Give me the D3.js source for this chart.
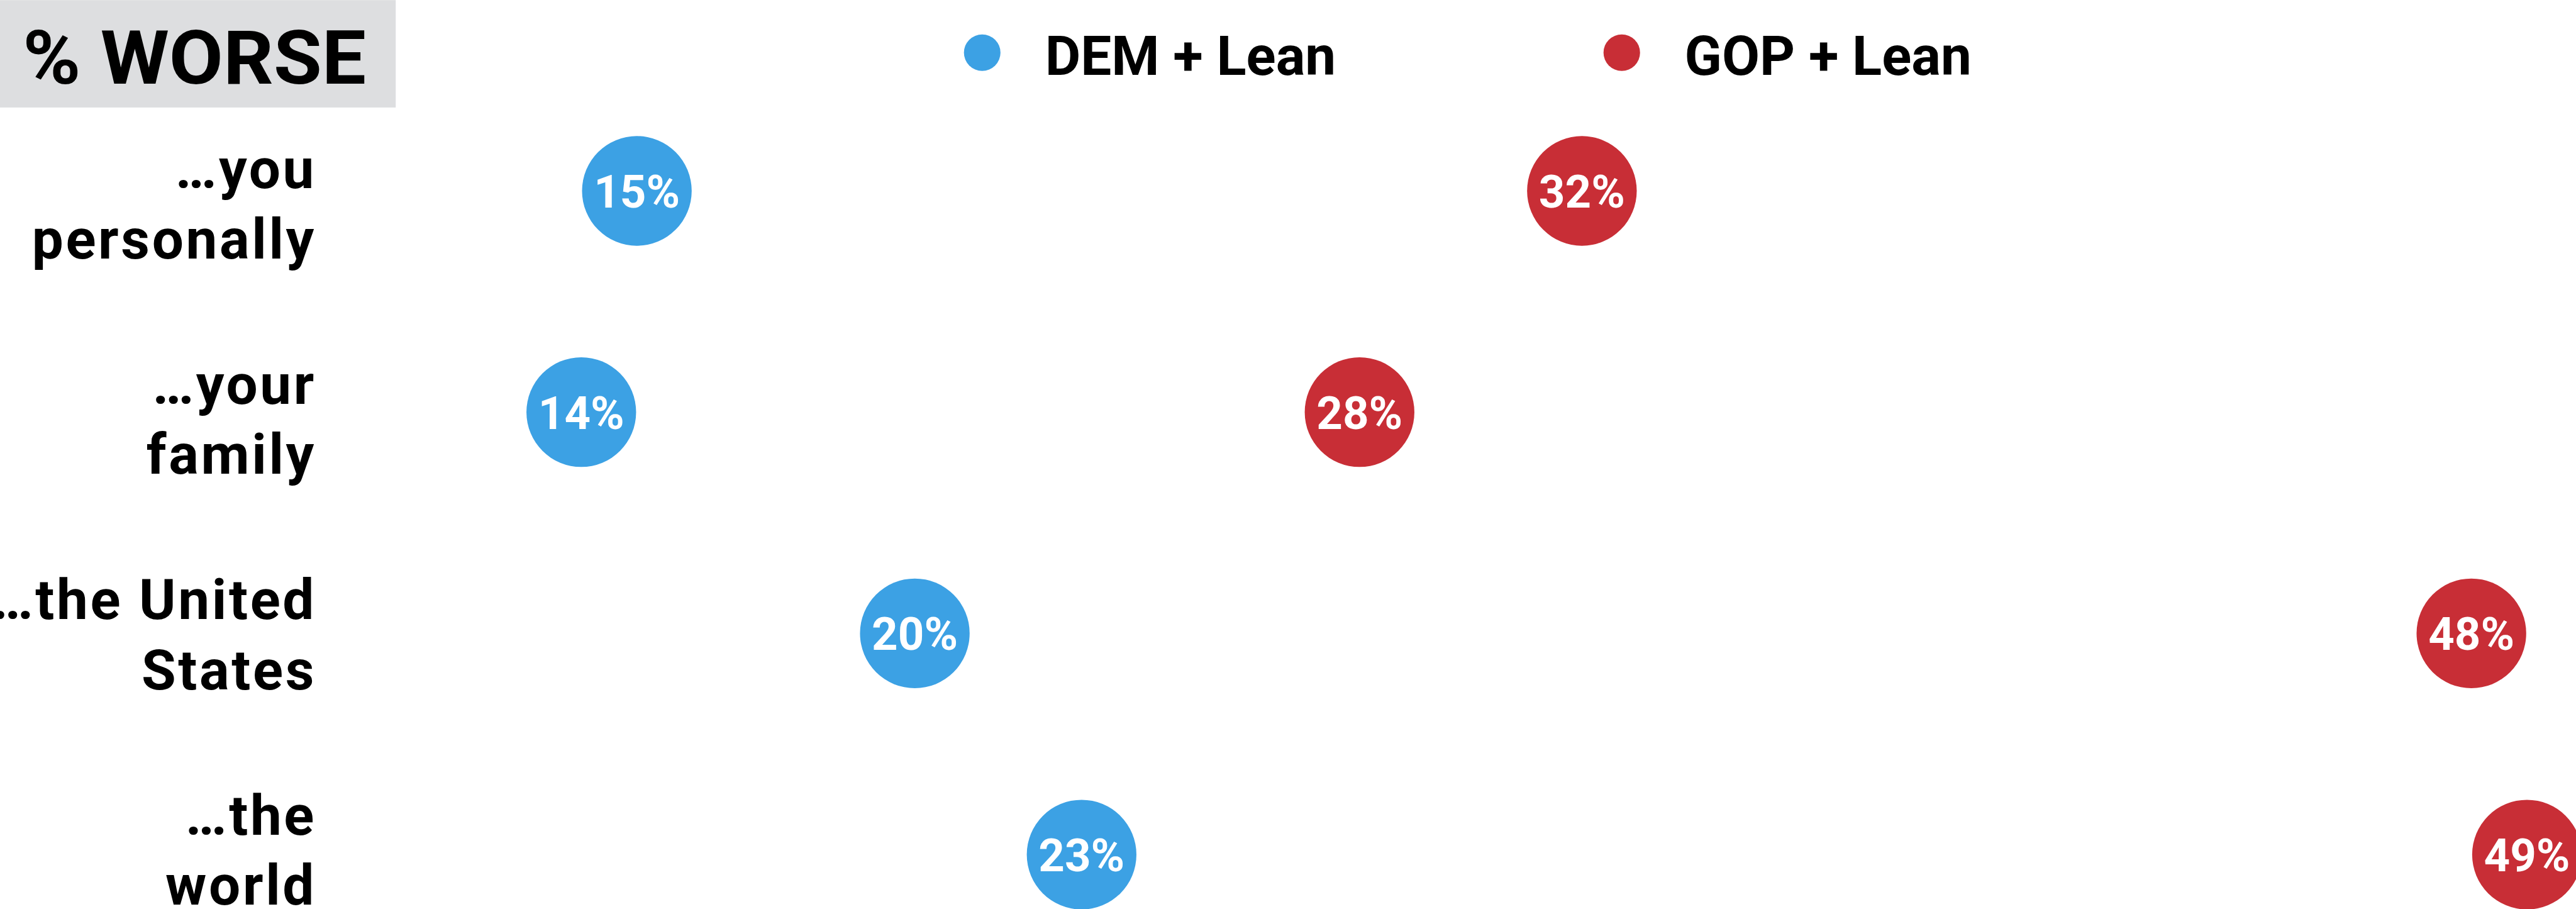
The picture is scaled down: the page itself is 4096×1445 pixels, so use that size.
<!DOCTYPE html>
<html>
<head>
<meta charset="utf-8">
<script src="https://cdn.jsdelivr.net/npm/d3@7"></script>
<style>
  html, body { margin: 0; padding: 0; background: #fff; overflow: hidden; }
  svg { display: block; font-family: Roboto, "Liberation Sans", sans-serif; }
</style>
</head>
<body>
<svg id="chart"></svg>
<script>
// data
const categories = ["you", "family", "us", "world"]
const labelLines = [
  ["\u2026you", "personally"],
  ["\u2026your", "family"],
  ["\u2026the United", "States"],
  ["\u2026the", "world"]
]
const demValues = [15, 14, 20, 23]
const gopValues = [32, 28, 48, 49]
const seriesNames = ["DEM + Lean", "GOP + Lean"]
const title = "% WORSE"

// drawing is done in the reference's own pixel space, then scaled by the viewBox
const W = 4511, H = 1591
const blue = "#3ca1e4", red = "#c82e36"

const svg = d3.select("#chart")
  .attr("width", 4096)
  .attr("height", 1445)
  .attr("viewBox", `0 0 ${W} ${H}`)

// x: percentage -> horizontal position
const x = d3.scaleLinear().domain([0, 50]).range([-345, 4522.5])
// y: row centres for the dots, and first-line baselines for the labels
const y = d3.scalePoint().domain(categories).range([334, 1496])
const yLabel = d3.scalePoint().domain(categories).range([329, 1461])

// header box
svg.append("rect")
  .attr("x", 0).attr("y", 0)
  .attr("width", 693).attr("height", 188)
  .attr("fill", "#dddee0")

svg.append("text")
  .attr("x", 40).attr("y", 146)
  .attr("textLength", 601)
  .attr("lengthAdjust", "spacingAndGlyphs")
  .attr("font-size", 130)
  .attr("font-weight", 700)
  .attr("fill", "#000")
  .text(title)

// legend
const legend = svg.selectAll(".legend")
  .data(seriesNames)
  .enter().append("g")
  .attr("class", "legend")
  .attr("transform", (d, i) => "translate(" + [1720, 2840][i] + ",92)")

legend.append("circle")
  .attr("r", 32)
  .attr("fill", (d, i) => i ? red : blue)

legend.append("text")
  .attr("x", 110)
  .attr("y", 39)
  .attr("font-size", 96)
  .attr("font-weight", 700)
  .attr("fill", "#000")
  .text(d => d)

// row labels
const rows = svg.selectAll(".row-label")
  .data(categories)
  .enter().append("text")
  .attr("class", "row-label")
  .attr("text-anchor", "end")
  .attr("font-size", 98)
  .attr("font-weight", 700)
  .attr("letter-spacing", 4)
  .attr("fill", "#000")

rows.selectAll("tspan")
  .data((d, i) => labelLines[i].map(t => ({ t: t, cat: d })))
  .enter().append("tspan")
  .attr("x", 554)
  .attr("y", (d, j) => yLabel(d.cat) + j * 123)
  .text(d => d.t)

// dots
const dots = []
categories.forEach((c, i) => {
  dots.push({ cat: c, v: demValues[i], color: blue })
  dots.push({ cat: c, v: gopValues[i], color: red })
})

const g = svg.selectAll(".dot")
  .data(dots)
  .enter().append("g")
  .attr("class", "dot")
  .attr("transform", d => "translate(" + x(d.v) + "," + y(d.cat) + ")")

g.append("circle")
  .attr("r", 96)
  .attr("fill", d => d.color)

g.append("text")
  .attr("text-anchor", "middle")
  .attr("y", 29)
  .attr("font-size", 80)
  .attr("font-weight", 700)
  .attr("fill", "#fff")
  .text(d => d.v + "%")
</script>
</body>
</html>
